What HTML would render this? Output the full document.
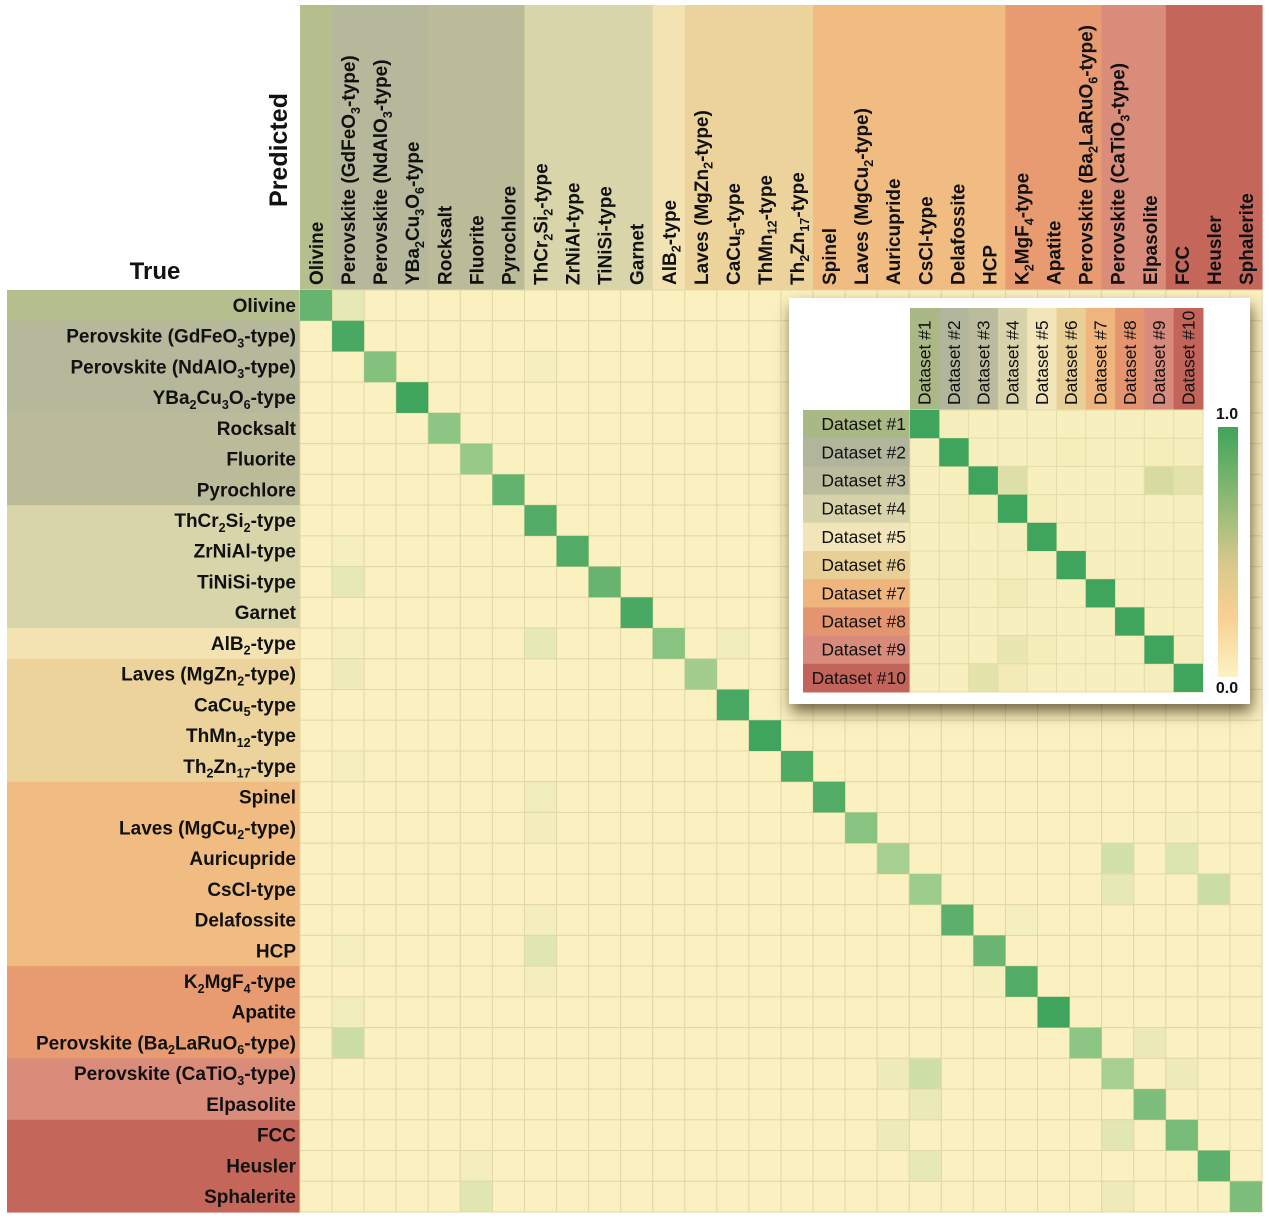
<!DOCTYPE html>
<html><head><meta charset="utf-8">
<style>
html,body{margin:0;padding:0;background:#fff;}
body{width:1269px;height:1219px;overflow:hidden;position:relative;font-family:"Liberation Sans",Arial,sans-serif;}
svg{position:absolute;left:0;top:0;}
#inset{position:absolute;left:789px;top:298px;width:461px;height:406px;background:#fff;box-shadow:2px 8px 14px rgba(40,30,0,0.65);}
</style></head>
<body>
<svg id="main" width="1269" height="1219"></svg>
<div id="inset">
<svg id="ins" width="461" height="406">
<defs><linearGradient id="cb" x1="0" y1="0" x2="0" y2="1">
<stop offset="0" stop-color="#3fa45c"/><stop offset="0.35" stop-color="#9fbd78"/><stop offset="0.55" stop-color="#d9c88e"/><stop offset="0.75" stop-color="#f8cf92"/><stop offset="1" stop-color="#fcf1c4"/></linearGradient></defs>
</svg></div>
<script>
// ---- main chart data ----
const categories=["Olivine","Perovskite (GdFeO_{3}-type)","Perovskite (NdAlO_{3}-type)","YBa_{2}Cu_{3}O_{6}-type","Rocksalt","Fluorite","Pyrochlore","ThCr_{2}Si_{2}-type","ZrNiAl-type","TiNiSi-type","Garnet","AlB_{2}-type","Laves (MgZn_{2}-type)","CaCu_{5}-type","ThMn_{12}-type","Th_{2}Zn_{17}-type","Spinel","Laves (MgCu_{2}-type)","Auricupride","CsCl-type","Delafossite","HCP","K_{2}MgF_{4}-type","Apatite","Perovskite (Ba_{2}LaRuO_{6}-type)","Perovskite (CaTiO_{3}-type)","Elpasolite","FCC","Heusler","Sphalerite"];
const groupIndex=[0,1,1,1,2,2,2,3,3,3,3,4,5,5,5,5,6,6,6,6,6,6,7,7,7,8,8,9,9,9];
const groupColors=["#b5bf8e","#b6b89b","#bbba99","#d9d5ab","#f4e3b2","#ebd39b","#f0bc82","#e89b71","#da8c7b","#c4675a"];
const diagValues=[0.8,0.95,0.65,1.0,0.6,0.55,0.82,0.9,0.9,0.8,0.95,0.62,0.5,0.95,1.0,0.92,0.9,0.62,0.48,0.52,0.85,0.78,0.9,1.0,0.6,0.48,0.68,0.72,0.85,0.68];
const offRows=[0,2,8,9,11,11,11,12,15,16,17,17,18,18,19,19,20,20,21,21,22,22,23,24,24,25,25,25,26,27,27,28,28,29,29];
const offCols=[1,7,1,1,7,13,1,1,1,7,7,27,25,27,25,28,7,22,7,1,7,21,1,1,26,18,19,27,19,18,25,19,5,5,25];
const offVals=[0.15,0.05,0.05,0.15,0.15,0.08,0.05,0.1,0.05,0.08,0.07,0.03,0.28,0.22,0.15,0.32,0.06,0.05,0.2,0.05,0.06,0.04,0.08,0.32,0.12,0.1,0.3,0.1,0.12,0.1,0.18,0.15,0.06,0.2,0.1];

// ---- inset data ----
const dsNames=["Dataset #1","Dataset #2","Dataset #3","Dataset #4","Dataset #5","Dataset #6","Dataset #7","Dataset #8","Dataset #9","Dataset #10"];
const dsColors=["#aab886","#b1b59c","#bbbc9d","#d6d3aa","#f2e5ba","#e8cf95","#f0b47d","#e59470","#d88a7c","#c2645a"];
const insRows=[0,1,1,1,2,2,2,3,3,3,4,6,6,8,8,8,9,9,9,5];
const insCols=[1,5,8,9,3,8,9,1,2,4,3,1,3,3,4,9,2,3,8,1];
const insVals=[0.05,0.06,0.06,0.05,0.25,0.3,0.2,0.05,0.06,0.06,0.05,0.05,0.08,0.15,0.07,0.05,0.2,0.08,0.05,0.04];

const NS="http://www.w3.org/2000/svg";
function mk(parent,tag,attrs){const e=document.createElementNS(NS,tag);for(const k in attrs)e.setAttribute(k,attrs[k]);parent.appendChild(e);return e;}
function lerp(a,b,t){return a+(b-a)*t;}
function hex(c){return [parseInt(c.slice(1,3),16),parseInt(c.slice(3,5),16),parseInt(c.slice(5,7),16)];}
const stops=[[0,"#fcf1c1"],[0.25,"#d8e3ac"],[0.55,"#97c989"],[1,"#3fa45c"]];
function colorScale(v){for(let i=1;i<stops.length;i++){if(v<=stops[i][0]){const t=(v-stops[i-1][0])/(stops[i][0]-stops[i-1][0]);const a=hex(stops[i-1][1]),b=hex(stops[i][1]);return `rgb(${Math.round(lerp(a[0],b[0],t))},${Math.round(lerp(a[1],b[1],t))},${Math.round(lerp(a[2],b[2],t))})`;}}return stops[stops.length-1][1];}
function richText(el,str,fs){const parts=str.split(/(_\{[^}]*\})/);for(const p of parts){if(!p)continue;if(p.startsWith("_{")){const t=mk(el,"tspan",{"font-size":fs*0.66,dy:fs*0.25});t.textContent=p.slice(2,-1);const r=mk(el,"tspan",{dy:-fs*0.25});r.textContent="\u200b";}else{const t=mk(el,"tspan",{});t.textContent=p;}}}

// ---- main axes ----
const svg=document.getElementById("main");
const X0=300,X1=1262,Y0=290,Y1=1212,N=categories.length;
const cw=(X1-X0)/N,ch=(Y1-Y0)/N;
const xPos=i=>X0+i*cw, yPos=i=>Y0+i*ch;
const HEAD_TOP=5,LAB_LEFT=7;

for(let i=0;i<N;i++){
  const hb=mk(svg,"rect",{x:xPos(i),y:HEAD_TOP,width:cw+0.6,height:Y0-HEAD_TOP,fill:groupColors[groupIndex[i]]});
  
  
  const rb=mk(svg,"rect",{x:LAB_LEFT,y:yPos(i),width:X0-LAB_LEFT,height:ch+0.6,fill:groupColors[groupIndex[i]]});
  
  
}
for(let r=0;r<N;r++)for(let c=0;c<N;c++){
  const cell=mk(svg,"rect",{x:xPos(c),y:yPos(r),width:cw,height:ch,fill:colorScale(0.01),stroke:"#e2d9a6","stroke-width":1});
  
  
}
for(let k=0;k<offVals.length;k++){
  const cell=mk(svg,"rect",{x:xPos(offCols[k]),y:yPos(offRows[k]),width:cw,height:ch,fill:colorScale(offVals[k]),stroke:"#e2d9a6","stroke-width":1});
  
  
}
for(let i=0;i<N;i++){
  const cell=mk(svg,"rect",{x:xPos(i),y:yPos(i),width:cw,height:ch,fill:colorScale(diagValues[i])});
  
  
}
for(let i=0;i<N;i++){
  const fs=19;
  const t=mk(svg,"text",{x:296,y:yPos(i)+ch/2+6.5,"text-anchor":"end","font-size":fs,"font-weight":"bold",fill:"#111"});
  richText(t,categories[i],fs);
  
  
  const cx=xPos(i)+cw/2+7,cy=285;
  const h=mk(svg,"text",{x:cx,y:cy,"font-size":fs,"font-weight":"bold",fill:"#111",transform:`rotate(-90 ${cx} ${cy})`});
  richText(h,categories[i],fs);
  
  
}
const tt=mk(svg,"text",{x:155,y:279,"text-anchor":"middle","font-size":24,"font-weight":"bold",fill:"#111"});tt.textContent="True";


const pt=mk(svg,"text",{x:287,y:150,"text-anchor":"middle","font-size":25,"font-weight":"bold",fill:"#111",transform:"rotate(-90 287 150)"});pt.textContent="Predicted";



// ---- inset ----
const ins=document.getElementById("ins");
const IX0=121,IX1=414,IY0=112,IY1=394,M=dsNames.length;
const icw=(IX1-IX0)/M,ich=(IY1-IY0)/M;
const ix=i=>IX0+i*icw, iy=i=>IY0+i*ich;
const iStops=[[0,"#fcf1c1"],[0.3,"#d8dba0"],[1,"#3fa45c"]];
function iColor(v){for(let i=1;i<iStops.length;i++){if(v<=iStops[i][0]){const t=(v-iStops[i-1][0])/(iStops[i][0]-iStops[i-1][0]);const a=hex(iStops[i-1][1]),b=hex(iStops[i][1]);return `rgb(${Math.round(lerp(a[0],b[0],t))},${Math.round(lerp(a[1],b[1],t))},${Math.round(lerp(a[2],b[2],t))})`;}}return "#3fa45c";}
for(let i=0;i<M;i++){
  const hb=mk(ins,"rect",{x:ix(i),y:10,width:icw+0.5,height:IY0-10,fill:dsColors[i]});
  
  
  const rb=mk(ins,"rect",{x:14,y:iy(i),width:IX0-14,height:ich+0.5,fill:dsColors[i]});
  
  
}
for(let r=0;r<M;r++)for(let c=0;c<M;c++){
  const cell=mk(ins,"rect",{x:ix(c),y:iy(r),width:icw,height:ich,fill:iColor(0.03),stroke:"#e4dcaa","stroke-width":1});
  
  
}
for(let k=0;k<insVals.length;k++){
  const cell=mk(ins,"rect",{x:ix(insCols[k]),y:iy(insRows[k]),width:icw,height:ich,fill:iColor(insVals[k]),stroke:"#e4dcaa","stroke-width":1});
  
  
}
for(let i=0;i<M;i++){
  const cell=mk(ins,"rect",{x:ix(i),y:iy(i),width:icw,height:ich,fill:iColor(1)});
  
  
  const t=mk(ins,"text",{x:IX0-4,y:iy(i)+ich/2+6,"text-anchor":"end","font-size":17.5,fill:"#111"});t.textContent=dsNames[i];
  
  
  const cx=ix(i)+icw/2+6,cy=IY0-5;
  const h=mk(ins,"text",{x:cx,y:cy,"font-size":17.5,fill:"#111",transform:`rotate(-90 ${cx} ${cy})`});h.textContent=dsNames[i];
  
  
}
const cbar=mk(ins,"rect",{x:429,y:129,width:20,height:250,fill:"url(#cb)"});


const c1=mk(ins,"text",{x:438,y:121,"text-anchor":"middle","font-size":16,"font-weight":"bold",fill:"#111"});c1.textContent="1.0";


const c0=mk(ins,"text",{x:438,y:395,"text-anchor":"middle","font-size":16,"font-weight":"bold",fill:"#111"});c0.textContent="0.0";


</script>
</body></html>
